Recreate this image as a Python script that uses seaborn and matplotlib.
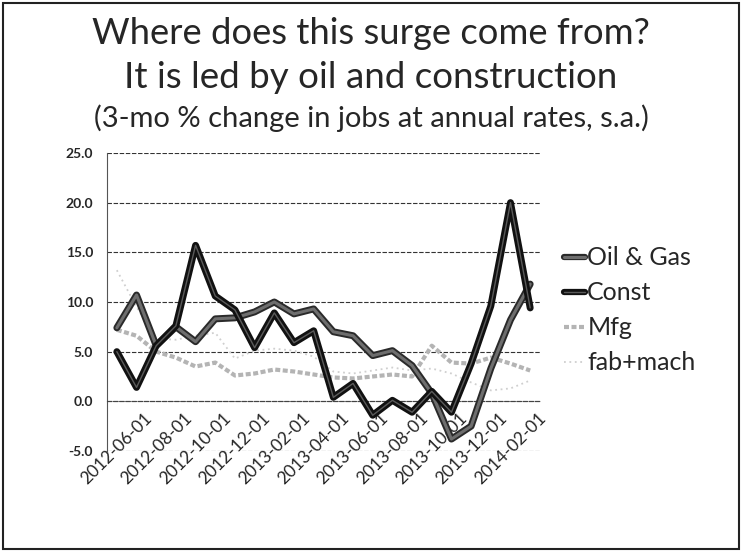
import numpy as np
import pandas as pd
import matplotlib
matplotlib.use('Agg')
import matplotlib.pyplot as plt
import matplotlib.patheffects as pe
from matplotlib.lines import Line2D
import seaborn as sns

# monthly categories, 3-mo % change at annual rates
months = ["2012-06-01", "2012-07-01", "2012-08-01", "2012-09-01", "2012-10-01",
          "2012-11-01", "2012-12-01", "2013-01-01", "2013-02-01", "2013-03-01",
          "2013-04-01", "2013-05-01", "2013-06-01", "2013-07-01", "2013-08-01",
          "2013-09-01", "2013-10-01", "2013-11-01", "2013-12-01", "2014-01-01",
          "2014-02-01", "2014-03-01"]
oil_gas = [7.4, 10.7, 5.6, 7.5, 6.0, 8.3, 8.4, 9.0, 10.0, 8.8, 9.3,
           7.0, 6.6, 4.6, 5.1, 3.6, 0.8, -3.8, -2.5, 3.3, 8.2, 11.8]
const = [5.0, 1.4, 5.6, 7.6, 15.7, 10.6, 9.2, 5.4, 8.9, 5.9, 7.1,
         0.4, 1.8, -1.4, 0.1, -1.1, 1.0, -1.1, 3.8, 9.6, 20.0, 9.4]
mfg = [7.2, 6.6, 5.0, 4.4, 3.5, 3.9, 2.6, 2.8, 3.2, 3.0, 2.7,
       2.4, 2.3, 2.5, 2.7, 2.5, 5.6, 3.9, 3.8, 4.4, 3.8, 3.1]
fab_mach = [13.2, 9.5, 6.3, 6.2, 6.6, 6.9, 4.3, 5.1, 5.3, 5.1, 4.5,
            3.0, 2.8, 3.1, 3.4, 3.1, 3.3, 2.8, 1.9, 1.1, 1.3, 2.1]
series_names = ["Oil & Gas", "Const", "Mfg", "fab+mach"]

sns.set_style("white")
plt.rcParams['font.family'] = ['Lato', 'DejaVu Sans']

n = len(months)
df = pd.DataFrame({
    "pos": list(range(n)) * 4,
    "value": oil_gas + const + mfg + fab_mach,
    "series": np.repeat(series_names, n),
})

fig = plt.figure(figsize=(7.42, 5.52), dpi=100)
ax = fig.add_axes([0.1442, 0.1830, 0.5836, 0.5399])

palette = {"Oil & Gas": "#6e6e6e", "Const": "#1a1a1a", "Mfg": "#b4b4b4", "fab+mach": "#cfcfcf"}
sns.lineplot(data=df, x="pos", y="value", hue="series", palette=palette,
             sort=False, legend=False, ax=ax)

# styles per series (order of lines follows hue order)
styles = {
    "Oil & Gas": dict(lw=2.2, ls="-", fx=[pe.Stroke(linewidth=5, foreground="#2a2a2a"), pe.Normal()]),
    "Const": dict(lw=1.0, ls="-", fx=[pe.Stroke(linewidth=5, foreground="#111111"), pe.Normal()]),
    "Mfg": dict(lw=3.0, ls=(0, (1.2, 0.6)), fx=None),
    "fab+mach": dict(lw=1.3, ls=(0, (1, 2)), fx=None),
}
order = [2, 3, 0, 1]
for name, line, z in zip(series_names, ax.lines, order):
    st = styles[name]
    line.set_linewidth(st["lw"])
    line.set_linestyle(st["ls"])
    line.set_zorder(3 + z)
    if name == "Const":
        line.set_color("#5a5a5a")
    if st["fx"]:
        line.set_path_effects(st["fx"])

ax.set_ylim(-5, 25)
ax.set_xlim(-0.5, n - 0.5)
ax.set_yticks(np.arange(-5, 26, 5))
ax.set_yticklabels([f"{v:.1f}" for v in np.arange(-5, 26, 5)], fontsize=10, fontweight="bold")
ax.yaxis.grid(True, color="#333333", lw=0.8, ls=(0, (4, 1.5)))
ax.set_axisbelow(True)

ax.set_xticks(range(0, n, 2))
ax.set_xticklabels(months[::2])
ax.set_xticks(np.arange(-0.5, n, 2), minor=True)
ax.tick_params(axis="x", which="major", length=0, pad=6, labelrotation=45, labelsize=12.5)
ax.tick_params(axis="x", which="minor", length=4, width=0.8, color="#333333", direction="out")
ax.tick_params(axis="y", length=0, pad=10)
ax.set_xlabel("")
ax.set_ylabel("")
for lab in ax.get_xticklabels():
    lab.set_ha("right")
    lab.set_va("top")
    lab.set_rotation_mode("anchor")
    lab.set_fontweight("bold")

ax.spines["bottom"].set_position(("data", 0))
ax.spines["bottom"].set_color("#444444")
ax.spines["bottom"].set_linestyle((0, (4, 1.5)))
ax.spines["left"].set_color("#555555")
ax.spines["left"].set_linestyle((0, (1, 1)))
ax.spines["top"].set_visible(False)
ax.spines["right"].set_visible(False)

# legend
handles = [
    Line2D([], [], color="#6e6e6e", lw=2.2, path_effects=[pe.Stroke(linewidth=4.5, foreground="#2a2a2a"), pe.Normal()]),
    Line2D([], [], color="#5a5a5a", lw=1.0, path_effects=[pe.Stroke(linewidth=4.5, foreground="#111111"), pe.Normal()]),
    Line2D([], [], color="#b4b4b4", lw=3.0, ls=(0, (1.2, 0.6))),
    Line2D([], [], color="#cfcfcf", lw=1.3, ls=(0, (1, 2))),
]
fig.legend(handles, series_names, loc="upper left", bbox_to_anchor=(0.746, 0.572),
           frameon=False, fontsize=18, handlelength=0.85, handletextpad=0.1,
           labelspacing=0.48, borderaxespad=0)

# titles
fig.text(0.5, 0.940, "Where does this surge come from?", ha="center", va="center", fontsize=26.2)
fig.text(0.5, 0.860, "It is led by oil and construction", ha="center", va="center", fontsize=26.5)
fig.text(0.5, 0.786, "(3-mo % change in jobs at annual rates, s.a.)", ha="center", va="center", fontsize=21)

# outer chart frame
fig.add_artist(plt.Rectangle((0.004, 0.006), 0.992, 0.988, transform=fig.transFigure,
                             fill=False, edgecolor="#222222", lw=1.5))

fig.savefig("out.png", dpi=100)
plt.close(fig)
